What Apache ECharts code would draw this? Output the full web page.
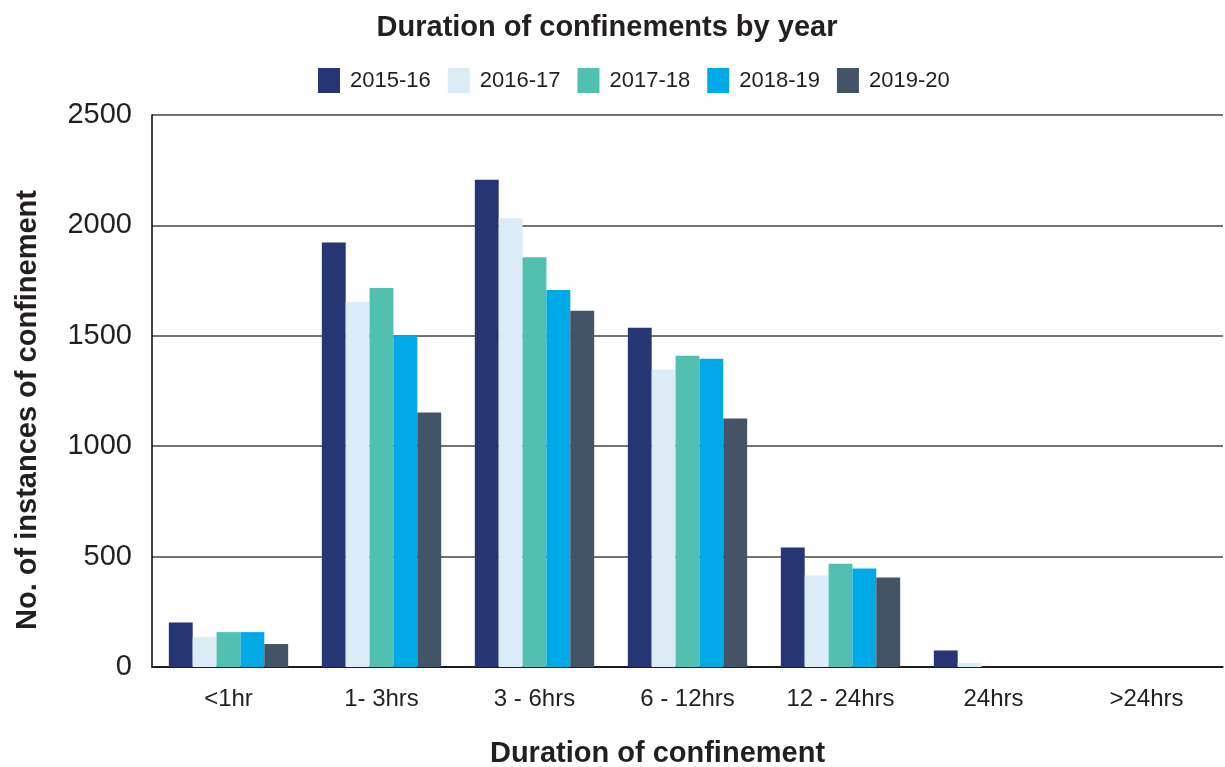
<!DOCTYPE html>
<html>
<head>
<meta charset="utf-8">
<script src="https://cdn.jsdelivr.net/npm/echarts@6/dist/echarts.min.js"></script>
<style>html,body{margin:0;padding:0;background:#fff}#c{width:1225px;height:767px}</style>
</head>
<body>
<div id="c"></div>
<script>
const categories = ['<1hr', '1- 3hrs', '3 - 6hrs', '6 - 12hrs', '12 - 24hrs', '24hrs', '>24hrs'];
const seriesNames = ['2015-16', '2016-17', '2017-18', '2018-19', '2019-20'];
const v2015 = [202, 1923, 2207, 1536, 541, 75, 0];
const v2016 = [135, 1653, 2032, 1347, 414, 18, 0];
const v2017 = [158, 1716, 1856, 1410, 468, 0, 0];
const v2018 = [158, 1503, 1707, 1396, 446, 0, 0];
const v2019 = [104, 1153, 1613, 1126, 405, 0, 0];
const yTicks = [0, 500, 1000, 1500, 2000, 2500];
const colors = ['#263573', '#dbecf6', '#52c0b0', '#00aae7', '#425466'];

const font = '"Liberation Sans", Arial, sans-serif';
const allValues = [v2015, v2016, v2017, v2018, v2019];

const chart = echarts.init(document.getElementById('c'), null, {renderer: 'canvas'});
chart.setOption({
  animation: false,
  color: colors,
  title: {
    text: 'Duration of confinements by year',
    left: 602, top: 8, textAlign: 'center',
    textStyle: {fontFamily: font, fontSize: 29, fontWeight: 'bold', color: '#231f20'}
  },
  legend: {
    data: seriesNames,
    left: 313, top: 63,
    itemWidth: 22, itemHeight: 25, itemGap: 17,
    icon: 'rect',
    textStyle: {fontFamily: font, fontSize: 22, color: '#231f20', padding: [0, 0, 0, 5]}
  },
  grid: {left: 152, right: 2, top: 115, bottom: 100, containLabel: false, outerBoundsMode: 'none'},
  xAxis: {
    type: 'category',
    data: categories,
    axisLine: {show: true, lineStyle: {color: '#000', width: 1.5}},
    axisTick: {show: false},
    axisLabel: {fontFamily: font, fontSize: 24, color: '#231f20', margin: 20},
    name: 'Duration of confinement',
    nameLocation: 'middle', nameGap: 72,
    nameTextStyle: {fontFamily: font, fontSize: 29, fontWeight: 'bold', color: '#231f20', padding: [0, 60, 0, 0]}
  },
  yAxis: {
    type: 'value',
    min: yTicks[0], max: yTicks[yTicks.length - 1], interval: 500,
    axisLine: {show: true, lineStyle: {color: '#000', width: 1.5}},
    axisTick: {show: false},
    axisLabel: {fontFamily: font, fontSize: 29, color: '#231f20', margin: 20, formatter: v => String(v)},
    splitLine: {show: true, lineStyle: {color: '#444', width: 1.5}},
    name: 'No. of instances of confinement',
    nameLocation: 'middle', nameGap: 110, nameRotate: 90,
    nameTextStyle: {fontFamily: font, fontSize: 29, fontWeight: 'bold', color: '#231f20', padding: [0, 38, 0, 0]}
  },
  series: seriesNames.map((n, i) => ({
    name: n, type: 'bar', data: allValues[i],
    barGap: '0%', barCategoryGap: '22%',
    itemStyle: {color: colors[i]}
  }))
});
</script>
</body>
</html>
